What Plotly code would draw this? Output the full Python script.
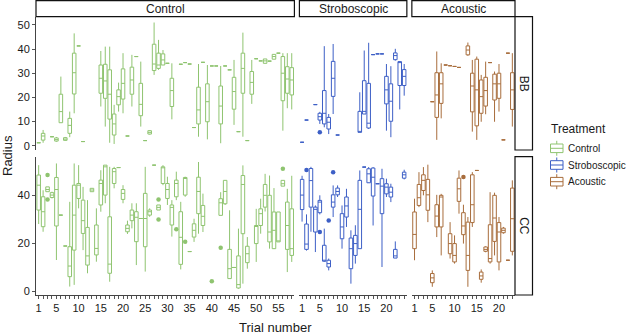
import plotly.graph_objects as go

W, H = 627, 334

# ---------------- data ----------------
# box rows: (trial, lower whisker, q1, median, q3, upper whisker); (trial, value) = single observation
control_bb = [
    (1, 1.2), (2, 1.2, 2.3, 4.0, 5.1, 6.5), (4, 3.7), (5, 1.6, 1.9, 2.5, 3.2, 3.6),
    (6, 9.5, 9.5, 14.1, 21.3, 28.6), (7, 2.0, 2.2, 2.7, 3.3, 3.6), (8, 3.5, 5.1, 8.4, 11.3, 14.1),
    (9, 13.4, 21.4, 30.2, 38.3, 46.5), (10, 41.3), (11, 1.7),
    (15, 16.2, 21.7, 27.9, 33.4, 39.2), (16, 7.9, 19.6, 26.8, 33.7, 41.0),
    (17, 1.2, 11.0, 21.3, 31.4, 41.0), (18, 0.7, 4.4, 9.0, 13.1, 16.9),
    (19, 14.1, 16.9, 20.3, 23.1, 26.1), (20, 13.4, 19.3, 25.8, 31.8, 38.3), (21, 4.0),
    (22, 16.2, 21.3, 27.2, 32.5, 37.6), (23, 36.9), (24, 7.9, 12.4, 17.1, 25.8, 34.8),
    (25, 2.1), (26, 4.6, 4.8, 5.5, 6.2, 6.4), (27, 29.3, 31.1, 33.8, 42.0, 51.0),
    (28, 31.4, 32.0, 33.4, 38.3, 43.8), (29, 33.4, 33.4, 35.5, 38.0, 39.6), (30, 34.1),
    (31, 10.9, 16.2, 22.8, 27.9, 34.1), (33, 33.7), (34, 34.4), (35, 33.8), (36, 7.5),
    (37, 3.7, 9.0, 14.8, 24.2, 33.8), (38, 34.5), (39, 2.6, 9.9, 18.2, 25.6, 33.4),
    (40, 33.0), (41, 33.0), (42, 1.0, 9.0, 16.4, 24.7, 33.0), (43, 33.0), (44, 31.4),
    (45, 8.6, 15.1, 22.4, 28.3, 35.5), (46, 5.8), (47, 3.7, 21.7, 32.0, 38.3, 46.8),
    (48, 2.1), (49, 17.3, 21.3, 26.2, 30.7, 35.5), (50, 36.0), (51, 35.1),
    (52, 34.1, 34.1, 35.1, 35.9, 35.9), (53, 35.0), (54, 35.8, 35.8, 36.9, 37.8, 37.8),
    (55, 38.3), (56, 6.2, 18.6, 30.0, 36.9, 38.3), (57, 15.5, 21.7, 27.6, 32.7, 38.3),
    (58, 15.0, 21.0, 27.2, 32.3, 38.3),
]
control_bb_out = []

control_cc = [
    (1, 28.0, 33.8, 44.1, 48.3, 52.4), (2, 24.8, 26.9, 33.1, 39.3, 42.0),
    (3, 41.4, 41.4, 42.3, 43.4, 43.4), (4, 38.6, 39.0, 40.0, 41.0, 41.4),
    (5, 13.1, 27.2, 42.3, 47.3, 53.1), (6, 31.7), (7, 18.9),
    (8, 2.1, 6.2, 10.6, 18.6, 37.2), (9, 2.8, 17.2, 31.7, 44.1, 53.1),
    (10, 34.5, 38.6, 44.1, 44.8, 52.4), (11, 17.2, 24.1, 29.4, 37.9, 43.4),
    (12, 7.6, 11.0, 14.8, 26.6, 37.9), (13, 41.4, 41.4, 42.1, 42.8, 42.8),
    (14, 12.4, 15.2, 17.9, 27.6, 34.5), (15, 33.1, 35.9, 44.8, 46.2, 50.3),
    (16, 36.6, 40.0, 51.7, 52.4, 52.4), (17, 4.1, 7.6, 11.4, 31.0, 51.7),
    (18, 42.8, 44.8, 49.7, 51.0, 51.7), (19, 51.4), (20, 36.6, 38.2, 40.7, 42.3, 44.1),
    (21, 23.9, 24.8, 26.2, 27.6, 29.4), (22, 26.2, 29.4, 31.7, 33.8, 36.6),
    (23, 11.0, 20.7, 30.8, 33.1, 36.6), (24, 30.3), (25, 8.3, 18.6, 30.3, 40.7, 51.7),
    (26, 31.0, 31.7, 33.1, 33.8, 34.5), (27, 52.4), (28, 33.8, 33.8, 34.9, 35.9, 35.9),
    (29, 44.1, 44.8, 51.4, 51.7, 52.4), (30, 35.9, 38.6, 42.3, 44.8, 47.6),
    (31, 22.8, 27.6, 34.9, 35.9, 37.9), (32, 37.9, 39.3, 44.8, 46.2, 49.7),
    (33, 9.2, 11.3, 22.5, 33.1, 37.2), (34, 39.3, 40.0, 46.9, 47.3, 47.6), (35, 16.6),
    (36, 20.6, 22.6, 25.4, 28.1, 30.2), (37, 24.0, 32.3, 41.5, 47.4, 53.7),
    (38, 24.7, 27.4, 31.2, 35.7, 40.6), (42, 31.6, 31.6, 36.8, 38.5, 41.2),
    (43, 35.9, 36.4, 41.5, 46.1, 46.1), (44, 5.4, 5.4, 9.5, 17.5, 33.7), (45, 10.0),
    (46, 1.2, 1.5, 2.9, 14.8, 26.1), (47, 3.3, 24.0, 44.4, 48.1, 52.3),
    (48, 9.5, 12.0, 15.7, 18.8, 22.6), (50, 12.3, 19.9, 27.2, 27.4, 34.3),
    (51, 24.0, 27.4, 32.3, 34.3, 38.5), (52, 33.2, 35.0, 39.9, 44.4, 48.8),
    (53, 17.8, 20.6, 24.7, 39.9, 48.1), (54, 17.8, 17.8, 25.4, 33.0, 42.9),
    (55, 20.6, 20.6, 21.0, 33.0, 33.0), (56, 43.7, 43.7, 44.7, 46.1, 46.1),
    (57, 8.1, 17.5, 27.4, 37.1, 42.6), (58, 12.3, 15.0, 17.8, 34.3, 48.0),
]
control_cc_out = [(3, 48.3), (3, 38.2), (28, 38.2), (28, 29.9), (32, 25.8), (34, 20.7),
                  (40, 4.3), (42, 18.2), (56, 50.9)]

strob_bb = [
    (1, 1.4), (2, 10.6), (4, 17.0), (5, 9.0, 10.6, 12.0, 13.4, 14.0),
    (6, 7.6, 9.0, 13.4, 22.8, 41.2), (7, 4.8, 6.9, 9.7, 11.7, 13.1),
    (8, 13.1, 20.4, 27.9, 34.9, 42.1), (9, 4.4), (14, 5.5, 5.5, 5.9, 14.2, 22.1),
    (15, 13.1, 13.1, 14.2, 26.9, 39.4), (16, 6.9, 7.3, 9.3, 25.8, 42.6),
    (17, 37.7), (18, 38.0), (19, 38.0), (20, 6.2, 17.3, 23.1, 28.7, 33.8),
    (21, 3.5, 10.1, 18.4, 25.6, 32.9), (22, 35.2, 35.6, 37.3, 38.4, 40.1),
    (23, 15.0, 24.9, 34.5, 34.8, 35.0), (24, 20.7, 24.9, 28.7, 31.5, 33.8),
]
strob_bb_out = [(5, 5.5)]

strob_cc = [
    (1, 29.0, 34.0, 40.0, 46.5, 48.0), (2, 17.0, 17.5, 19.7, 28.0, 32.0),
    (3, 24.8, 35.0, 46.0, 51.0, 51.7), (4, 16.4, 24.7, 34.1, 35.0, 35.7),
    (5, 32.0, 32.7, 37.1, 37.8, 39.9), (6, 12.3, 12.6, 13.0, 19.2, 26.1),
    (7, 8.8, 10.2, 11.6, 13.0, 13.7), (8, 30.9, 35.0, 37.1, 40.1, 44.0),
    (9, 39.2, 40.1, 41.5, 42.9, 44.0), (10, 17.8, 21.9, 26.8, 32.3, 35.7),
    (11, 26.8, 30.9, 35.5, 39.2, 42.6), (12, 3.3, 9.5, 17.8, 22.2, 25.4),
    (13, 11.6, 15.0, 19.9, 23.3, 27.5), (14, 17.8, 17.8, 34.1, 46.1, 50.2), (15, 51.6),
    (16, 45.0, 45.1, 48.8, 50.9, 51.6), (17, 27.4, 39.6, 47.4, 51.2, 51.6), (18, 44.7),
    (19, 10.2, 32.3, 43.7, 46.8, 50.9), (20, 39.2, 40.5, 43.3, 44.7, 46.8),
    (21, 37.1, 39.2, 41.2, 43.3, 44.7), (22, 13.9, 13.9, 14.8, 17.5, 20.8),
    (24, 46.5, 47.0, 48.4, 49.5, 50.5),
]
strob_cc_out = [(2, 50.4), (5, 24.7), (7, 29.5), (8, 49.5)]

acou_bb = [
    (5, 18.2), (6, 2.4, 11.7, 21.0, 30.2, 39.0), (7, 11.3, 17.5, 25.6, 30.2, 34.1),
    (8, 33.4), (9, 33.1), (10, 32.8), (11, 32.4), (13, 37.2, 37.6, 39.6, 41.3, 42.7),
    (14, 5.8, 14.0, 24.7, 30.0, 35.5), (15, 2.4, 8.2, 23.1, 35.8, 36.9),
    (16, 9.9, 13.4, 20.3, 27.2, 29.3), (17, 13.0, 16.4, 22.8, 28.3, 34.8), (18, 34.4),
    (19, 9.9, 18.9, 25.6, 29.6, 30.7), (20, 14.1, 19.6, 25.6, 30.0, 33.8),
    (21, 2.4), (22, 38.3), (23, 7.9, 15.0, 23.1, 30.2, 38.3),
]
acou_bb_out = []

acou_cc = [
    (1, 13.0, 17.8, 23.7, 33.0, 38.5), (2, 35.0, 35.7, 38.9, 44.4, 49.5),
    (3, 39.9, 41.9, 46.1, 48.4, 51.6), (4, 28.8, 33.7, 40.1, 46.5, 52.6),
    (5, 2.0, 3.7, 5.7, 7.5, 8.8), (6, 22.6, 26.8, 31.3, 36.0, 40.1),
    (7, 15.0, 26.8, 39.2, 39.9, 40.5), (9, 13.7, 15.7, 19.9, 24.0, 28.8),
    (10, 11.6, 12.3, 15.0, 19.9, 23.3), (11, 32.3, 37.4, 42.6, 47.0, 50.2),
    (12, 19.9, 23.6, 27.2, 32.7, 36.0), (13, 2.0, 8.8, 15.0, 28.8, 30.9),
    (14, 26.8, 28.6, 36.0, 48.4, 49.5), (15, 50.2), (16, 3.7, 5.1, 6.5, 8.1, 9.2),
    (17, 16.3, 16.7, 17.5, 18.5, 18.8), (18, 11.6, 12.3, 13.7, 27.7, 41.2),
    (19, 15.0, 20.8, 30.5, 39.9, 41.0), (20, 8.8, 12.3, 24.7, 28.6, 30.9),
    (21, 24.0, 24.4, 25.4, 26.3, 26.8), (22, 13.0), (23, 15.0, 16.7, 30.2, 42.9, 46.1),
]
acou_cc_out = [(12, 47.5)]

treatments = ["Control", "Stroboscopic", "Acoustic"]
n_trials = [58, 24, 23]
x_tick_labels = [[1, 5, 10, 15, 20, 25, 30, 35, 40, 45, 50, 55],
                 [1, 5, 10, 15, 20], [1, 5, 10, 15, 20]]
rows = ["BB", "CC"]
y_ticks = [[0, 10, 20, 30, 40, 50], [0, 20, 40]]
y_ranges = [[-1.8, 53.4], [-1.4, 55.9]]

colors = ["#8fc470", "#3d5fc6", "#a86d3c"]

data = {("BB", 0): (control_bb, control_bb_out), ("CC", 0): (control_cc, control_cc_out),
        ("BB", 1): (strob_bb, strob_bb_out), ("CC", 1): (strob_cc, strob_cc_out),
        ("BB", 2): (acou_bb, acou_bb_out), ("CC", 2): (acou_cc, acou_cc_out)}

# ---------------- layout geometry (pixels) ----------------
def px_x(x):
    return x / W

def px_y(y):
    return 1 - y / H

unit = 4.44
gap = 5.0
left0 = 36.0
col_bounds = []
cur = left0
for n in n_trials:
    w = (n + 0.2) * unit
    col_bounds.append((cur, cur + w))
    cur += w + gap
col_bounds[-1] = (col_bounds[-1][0], 515.0)
row_bounds = [(16.7, 150.0), (156.7, 295.0)]

fig = go.Figure()
layout = dict(width=W, height=H, margin=dict(l=0, r=0, t=0, b=0), autosize=False,
              paper_bgcolor="white", plot_bgcolor="white", showlegend=False,
              font=dict(family="Liberation Sans, Arial, sans-serif", color="#1a1a1a"))

ax_id = 0
for r, rname in enumerate(rows):
    for c in range(3):
        ax_id += 1
        xa = "xaxis" if ax_id == 1 else f"xaxis{ax_id}"
        ya = "yaxis" if ax_id == 1 else f"yaxis{ax_id}"
        xr = "x" if ax_id == 1 else f"x{ax_id}"
        yr = "y" if ax_id == 1 else f"y{ax_id}"
        x0, x1 = col_bounds[c]
        y0, y1 = row_bounds[r]
        n = n_trials[c]
        bottom = (r == 1)
        layout[xa] = dict(domain=[px_x(x0), px_x(x1)], range=[0.4, n + 0.6], anchor=yr,
                          showgrid=False, zeroline=False, showline=bottom,
                          linecolor="#444444", linewidth=1,
                          ticks="outside" if bottom else "", ticklen=3, tickwidth=1,
                          tickcolor="#555555",
                          tickvals=list(range(1, n + 1)),
                          ticktext=[str(t) if t in x_tick_labels[c] else "" for t in range(1, n + 1)],
                          showticklabels=bottom, tickfont=dict(size=11, color="#1a1a1a"),
                          automargin=False, fixedrange=True)
        left = (c == 0)
        layout[ya] = dict(domain=[px_y(y1), px_y(y0)], range=y_ranges[r], anchor=xr,
                          showgrid=False, zeroline=False, showline=left,
                          linecolor="#444444", linewidth=1,
                          ticks="outside" if left else "", ticklen=3, tickwidth=1,
                          tickcolor="#555555",
                          tickvals=y_ticks[r], showticklabels=left,
                          tickfont=dict(size=11, color="#1a1a1a"),
                          automargin=False, fixedrange=True)

        boxes, outs = data[(rname, c)]
        xs, lo, q1, med, q3, hi = [], [], [], [], [], []
        for row in boxes:
            vals = row[1:] if len(row) == 6 else (row[1],) * 5
            xs.append(row[0]); lo.append(vals[0]); q1.append(vals[1])
            med.append(vals[2]); q3.append(vals[3]); hi.append(vals[4])
        fig.add_trace(go.Box(x=xs, lowerfence=lo, q1=q1, median=med, q3=q3, upperfence=hi,
                             xaxis=xr, yaxis=yr, width=0.8, whiskerwidth=0,
                             fillcolor="white", line=dict(color=colors[c], width=1),
                             boxpoints=False, name=treatments[c], hoverinfo="skip"))
        if outs:
            fig.add_trace(go.Scatter(x=[o[0] for o in outs], y=[o[1] for o in outs],
                                     xaxis=xr, yaxis=yr, mode="markers",
                                     marker=dict(color=colors[c], size=4.5),
                                     name=treatments[c], hoverinfo="skip"))

shapes = []
annotations = []
# top strips
for c in range(3):
    x0, x1 = col_bounds[c]
    shapes.append(dict(type="rect", xref="paper", yref="paper",
                       x0=px_x(x0), x1=px_x(x1), y0=px_y(16.7), y1=px_y(0.7),
                       line=dict(color="#111111", width=1.2), fillcolor="white", layer="above"))
    annotations.append(dict(text=treatments[c], xref="paper", yref="paper",
                            x=px_x((x0 + x1) / 2), y=px_y(8.7), showarrow=False,
                            font=dict(size=12, color="#1a1a1a"), xanchor="center", yanchor="middle"))
# right strips
for r, rname in enumerate(rows):
    y0, y1 = row_bounds[r]
    shapes.append(dict(type="rect", xref="paper", yref="paper",
                       x0=px_x(515), x1=px_x(532.5), y0=px_y(y1), y1=px_y(y0),
                       line=dict(color="#111111", width=1.2), fillcolor="white", layer="above"))
    annotations.append(dict(text=rname, xref="paper", yref="paper", textangle=90,
                            x=px_x(523.7), y=px_y((y0 + y1) / 2), showarrow=False,
                            font=dict(size=12, color="#1a1a1a"), xanchor="center", yanchor="middle"))

# axis titles
annotations.append(dict(text="Radius", xref="paper", yref="paper", textangle=-90,
                        x=px_x(7), y=px_y(156), showarrow=False,
                        font=dict(size=13, color="#1a1a1a"), xanchor="center", yanchor="middle"))
annotations.append(dict(text="Trial number", xref="paper", yref="paper",
                        x=px_x(275.5), y=px_y(327), showarrow=False,
                        font=dict(size=13, color="#1a1a1a"), xanchor="center", yanchor="middle"))

# legend
annotations.append(dict(text="Treatment", xref="paper", yref="paper",
                        x=px_x(548.5), y=px_y(128.5), showarrow=False,
                        font=dict(size=12, color="#1a1a1a"), xanchor="left", yanchor="middle"))
for i, t in enumerate(treatments):
    yc = 148.3 + i * 16.7
    kx0, kx1 = 550.5, 563.0
    kxm = (kx0 + kx1) / 2
    col = colors[i]
    shapes.append(dict(type="line", xref="paper", yref="paper", x0=px_x(kxm), x1=px_x(kxm),
                       y0=px_y(yc - 7.5), y1=px_y(yc + 7.5), line=dict(color=col, width=1)))
    shapes.append(dict(type="rect", xref="paper", yref="paper", x0=px_x(kx0), x1=px_x(kx1),
                       y0=px_y(yc + 4.3), y1=px_y(yc - 4.3), line=dict(color=col, width=1),
                       fillcolor="white"))
    shapes.append(dict(type="line", xref="paper", yref="paper", x0=px_x(kx0), x1=px_x(kx1),
                       y0=px_y(yc), y1=px_y(yc), line=dict(color=col, width=1)))
    annotations.append(dict(text=t, xref="paper", yref="paper", x=px_x(565.5), y=px_y(yc),
                            showarrow=False, font=dict(size=10, color="#1a1a1a"),
                            xanchor="left", yanchor="middle"))

layout["shapes"] = shapes
layout["annotations"] = annotations
fig.update_layout(**layout)
fig.write_html("out.html", config={"displayModeBar": False, "staticPlot": True},
               post_script="document.body.style.margin='0';document.body.style.padding='0';"
                           "document.body.style.overflow='hidden';")
